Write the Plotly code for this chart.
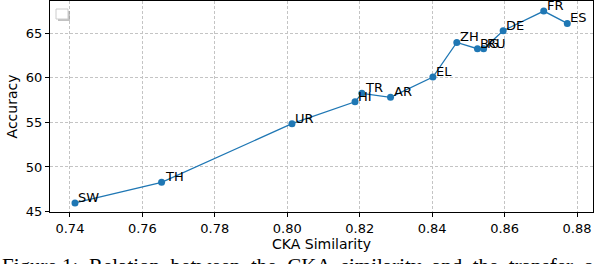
import plotly.graph_objects as go

languages = ["SW", "TH", "UR", "HI", "TR", "AR", "EL", "ZH", "BG", "RU", "DE", "FR", "ES"]
cka_similarity = [0.7414, 0.7653, 0.8013, 0.8187, 0.8206, 0.8285, 0.8402, 0.8468, 0.8525, 0.8542, 0.8596, 0.8708, 0.8773]
accuracy = [45.97, 48.28, 54.85, 57.30, 58.25, 57.80, 60.08, 63.96, 63.25, 63.25, 65.27, 67.47, 66.09]

x_ticks = [0.74, 0.76, 0.78, 0.80, 0.82, 0.84, 0.86, 0.88]
x_tick_text = ["0.74", "0.76", "0.78", "0.80", "0.82", "0.84", "0.86", "0.88"]
y_ticks = [45, 50, 55, 60, 65]
y_tick_text = ["45", "50", "55", "60", "65"]

caption = "Figure 1:  Relation  between  the  CKA  similarity  and  the  transfer  of"

W, H = 594, 264
ml, mr, mt, mb = 50, 1, 1, 52
pw, ph = W - ml - mr, H - mt - mb

fig = go.Figure()
fig.add_trace(go.Scatter(
    x=cka_similarity, y=accuracy, mode="lines+markers",
    line=dict(color="#1f77b4", width=1.3),
    marker=dict(color="#1f77b4", size=7),
    showlegend=False, hoverinfo="skip",
))

annotations = []
for lang, xv, yv in zip(languages, cka_similarity, accuracy):
    annotations.append(dict(
        x=xv, y=yv, xref="x", yref="y", text=lang, showarrow=False,
        xanchor="left", yanchor="bottom", xshift=1, yshift=-4,
        font=dict(family="DejaVu Sans", size=13, color="black"),
    ))

def px_to_paper_x(px):
    return (px - ml) / pw

def px_to_paper_y(py):
    return (H - mb - py) / ph

annotations.append(dict(
    x=px_to_paper_x(0), y=px_to_paper_y(252), xref="paper", yref="paper",
    text=caption, showarrow=False, xanchor="left", yanchor="top",
    font=dict(family="Liberation Serif", size=21, color="black"),
))

shapes = [
    dict(type="rect", xref="paper", yref="paper",
         x0=px_to_paper_x(58), x1=px_to_paper_x(70), y0=px_to_paper_y(21), y1=px_to_paper_y(11),
         fillcolor="#9a9a9a", line=dict(width=0), opacity=0.6, layer="above"),
    dict(type="rect", xref="paper", yref="paper",
         x0=px_to_paper_x(56), x1=px_to_paper_x(68), y0=px_to_paper_y(19), y1=px_to_paper_y(9),
         fillcolor="white", line=dict(color="#cccccc", width=1), layer="above"),
]

axis_common = dict(
    showline=True, linecolor="black", linewidth=1.2, mirror=True,
    ticks="outside", ticklen=4, tickcolor="black", tickwidth=1,
    showgrid=True, gridcolor="#c4c4c4", griddash="3px,2px", gridwidth=1,
    zeroline=False, automargin=False,
    tickfont=dict(family="DejaVu Sans", size=13, color="black"),
)

fig.update_layout(
    width=W, height=H,
    margin=dict(l=ml, r=mr, t=mt, b=mb),
    paper_bgcolor="white", plot_bgcolor="white",
    xaxis=dict(range=[0.7345, 0.8844], tickvals=x_ticks, ticktext=x_tick_text,
               title=dict(text="CKA Similarity", font=dict(family="DejaVu Sans", size=14, color="black"), standoff=2),
               **axis_common),
    yaxis=dict(range=[44.95, 68.6], tickvals=y_ticks, ticktext=y_tick_text,
               title=dict(text="Accuracy", font=dict(family="DejaVu Sans", size=14, color="black"), standoff=4),
               **axis_common),
    annotations=annotations,
    shapes=shapes,
)

fig.write_html(
    "out.html",
    config={"displayModeBar": False},
    post_script="document.body.style.margin='0';document.body.style.overflow='hidden';",
)
